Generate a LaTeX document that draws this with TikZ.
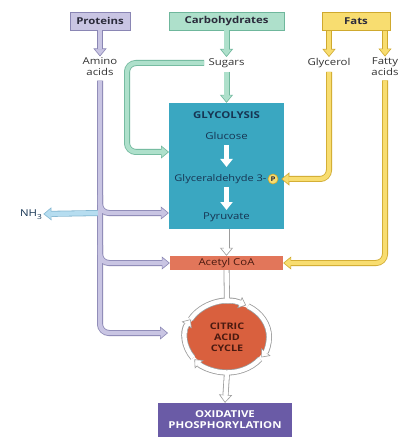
\documentclass[tikz,border=0pt]{standalone}
\usepackage{fontspec}
\setmainfont{Open Sans}[FakeStretch=1.2]
\usetikzlibrary{arrows.meta,calc,shapes.geometric}
\definecolor{protF}{HTML}{C9C5E3}
\definecolor{protD}{HTML}{8A86B4}
\definecolor{carbF}{HTML}{AEE0CB}
\definecolor{carbD}{HTML}{6FB79C}
\definecolor{fatF}{HTML}{F8DD70}
\definecolor{fatD}{HTML}{CFA92E}
\definecolor{nhF}{HTML}{B6DDF0}
\definecolor{nhD}{HTML}{86B9D3}
\definecolor{whF}{HTML}{FFFFFF}
\definecolor{whD}{HTML}{9C9C9C}
\definecolor{glyF}{HTML}{3AA7C1}
\definecolor{acF}{HTML}{E2765A}
\definecolor{citF}{HTML}{D9603E}
\definecolor{oxF}{HTML}{6A5BA6}
\definecolor{lblC}{HTML}{333333}
\definecolor{gtxtC}{HTML}{173553}
\definecolor{topC}{HTML}{2B2B3B}
\definecolor{acT}{HTML}{4A1A10}
\begin{document}
\begin{tikzpicture}[x=1pt,y=-1pt,
  font=\fontsize{9.5}{11}\selectfont,
  lbl/.style={inner sep=1.5pt, outer sep=0pt, text height=7pt, text depth=2pt, text=lblC},
  lbl2/.style={inner sep=1.5pt, outer sep=0pt, text=lblC, align=center},
  gtxt/.style={inner sep=1.5pt, outer sep=0pt, text height=7pt, text depth=2pt, text=gtxtC},
  topbox/.style={draw=#1D, fill=#1F, line width=0.8pt, minimum height=18pt, inner sep=0pt,
    font=\fontsize{9.5}{11}\selectfont\bfseries, text=topC},
  p1/.style={line width=6pt, draw=#1D, rounded corners=9pt,
    -{Triangle[length=8pt,width=13pt,line width=0.6pt,fill=#1F,color=#1D]}},
  p2/.style={line width=4.4pt, draw=#1F, rounded corners=9pt, shorten >=7pt},
  ringp1/.style={-{Triangle[length=7pt,width=12pt,line width=0.6pt,fill=white,color=whD]}},
  ringp2/.style={shorten >=6pt},
  wtip/.style={line width=4.5pt, draw=white, -{Triangle[length=8pt,width=12pt]}},
  boldf/.style={font=\fontsize{9.5}{11}\selectfont\bfseries}
]
\fill[white] (0,0) rectangle (415,446);
\useasboundingbox (0,0) rectangle (415,446);

% top boxes
\node[topbox=prot, minimum width=60pt] (prot) at (100,21) {Proteins};
\node[topbox=carb, minimum width=115pt] (carb) at (226.5,21) {Carbohydrates};
\node[topbox=fat, minimum width=68pt] (fats) at (356,21.5) {Fats};

% labels
\node[lbl2] (aa) at (100,67) {Amino\\acids};
\node[lbl] (sug) at (226.5,63) {Sugars};
\node[lbl] (gcl) at (329,63) {Glycerol};
\node[lbl2] (fa) at (385,67) {Fatty\\acids};
\node[gtxt] (nh) at (31,214) {NH\raisebox{-2.5pt}{\fontsize{7}{7}\selectfont 3}};

% glycolysis
\node[fill=glyF, minimum width=115pt, minimum height=126pt, inner sep=0pt] (gly) at (226.5,166) {};
\node[gtxt, boldf] (gt) at (226.5,116) {GLYCOLYSIS};
\node[gtxt] (glc) at (226.5,137) {Glucose};
\node[gtxt, anchor=east, font=\fontsize{9.2}{11}\selectfont] (g3p) at (268,179) {Glyceraldehyde 3-};
\node[circle, draw=fatD, fill=fatF, minimum size=10pt, inner sep=0pt, line width=0.6pt,
  font=\fontsize{6.5}{7}\selectfont\bfseries, text=topC] (pc) at (273,179) {P};
\node[gtxt] (pyr) at (226.5,217) {Pyruvate};
\draw[wtip, shorten <=2pt, shorten >=6pt] (glc.south) -- (glc.south |- g3p.north);
\draw[wtip, shorten <=2pt, shorten >=1pt] (glc.south |- g3p.south) -- (pyr.north);

% acetyl CoA
\node[fill=acF, minimum width=113pt, minimum height=14pt, inner sep=0pt, text=acT,
  text height=6.5pt, text depth=1.5pt] (ac) at (226.5,263) {Acetyl CoA};

% citric acid cycle
\node[ellipse, fill=citF, minimum width=80pt, minimum height=67pt, inner sep=0pt,
  align=center, font=\fontsize{9}{11}\selectfont\bfseries, text=acT] (cit) at (227,337) {CITRIC\\ACID\\CYCLE};
\coordinate (cc) at (227,337);
\coordinate (rtop) at ($(cc)+(90:42pt and 35.5pt)$);
\coordinate (rbot) at ($(cc)+(270:42pt and 35.5pt)$);

% oxidative phosphorylation
\node[fill=oxF, minimum width=134pt, minimum height=34pt, inner sep=0pt, text=white,
  align=center, boldf] (ox) at (225,420) {OXIDATIVE\\PHOSPHORYLATION};

% arrows from top boxes
\foreach \s in {p1,p2}{
  \draw[\s=prot] (prot.south) -- (aa.north);
  \draw[\s=carb] (carb.south) -- (sug.north);
  \draw[\s=fat] (fats.south -| gcl) -- (gcl.north);
  \draw[\s=fat] (fats.south -| fa) -- (fa.north);
}

% sugars
\coordinate (gbend) at (127,63);
\coordinate (gin) at (169,152);
\foreach \s in {p1,p2}{
  \draw[\s=carb] ($(sug.south)+(0,3)$) -- (gly.north);
  \draw[\s=carb] ($(sug.west)+(-3,0)$) -- (gbend) |- (gin);
}

% fats
\foreach \s in {p1,p2}{
  \draw[\s=fat] ($(gcl.south)+(0,3)$) |- ($(pc.east)+(3,0)$);
  \draw[\s=fat] ($(fa.south)+(0,3)$) |- (ac.east);
}

% amino acids
\coordinate (citin) at (168,333);
\draw[p1=prot] ($(aa.south)+(0,3)$) |- (citin);
\draw[p1=prot] (aa.south |- 0,195) |- (gly.west |- 0,213);
\draw[p1=prot] (aa.south |- 0,245) |- (ac.west);
\draw[p1=nh] (aa.south |- 0,213) -- (nh.east);
\draw[p2=nh] (aa.south |- 0,213) -- (nh.east);
\draw[p2=prot] ($(aa.south)+(0,3)$) |- (citin);
\draw[p2=prot] (aa.south |- 0,195) |- (gly.west |- 0,213);
\draw[p2=prot] (aa.south |- 0,245) |- (ac.west);

% white arrows and ring
\foreach \s in {p1,p2}{
  \draw[\s=wh] (gly.south) -- (ac.north);
  \draw[\s=wh, -, shorten >=0pt] (ac.south) -- (rtop);
  \draw[\s=wh, ring\s] ($(cc)+(150:42pt and 35.5pt)$) arc[start angle=150, end angle=63, x radius=42pt, y radius=35.5pt];
  \draw[\s=wh, ring\s] ($(cc)+(60:42pt and 35.5pt)$) arc[start angle=60, end angle=-35, x radius=42pt, y radius=35.5pt];
  \draw[\s=wh, ring\s] ($(cc)+(-38:42pt and 35.5pt)$) arc[start angle=-38, end angle=-141, x radius=42pt, y radius=35.5pt];
  \draw[\s=wh, ring\s] ($(cc)+(-144:42pt and 35.5pt)$) arc[start angle=-144, end angle=-210, x radius=42pt, y radius=35.5pt];
  \draw[\s=wh] (rbot) -- (ox.north);
}
\end{tikzpicture}
\end{document}
